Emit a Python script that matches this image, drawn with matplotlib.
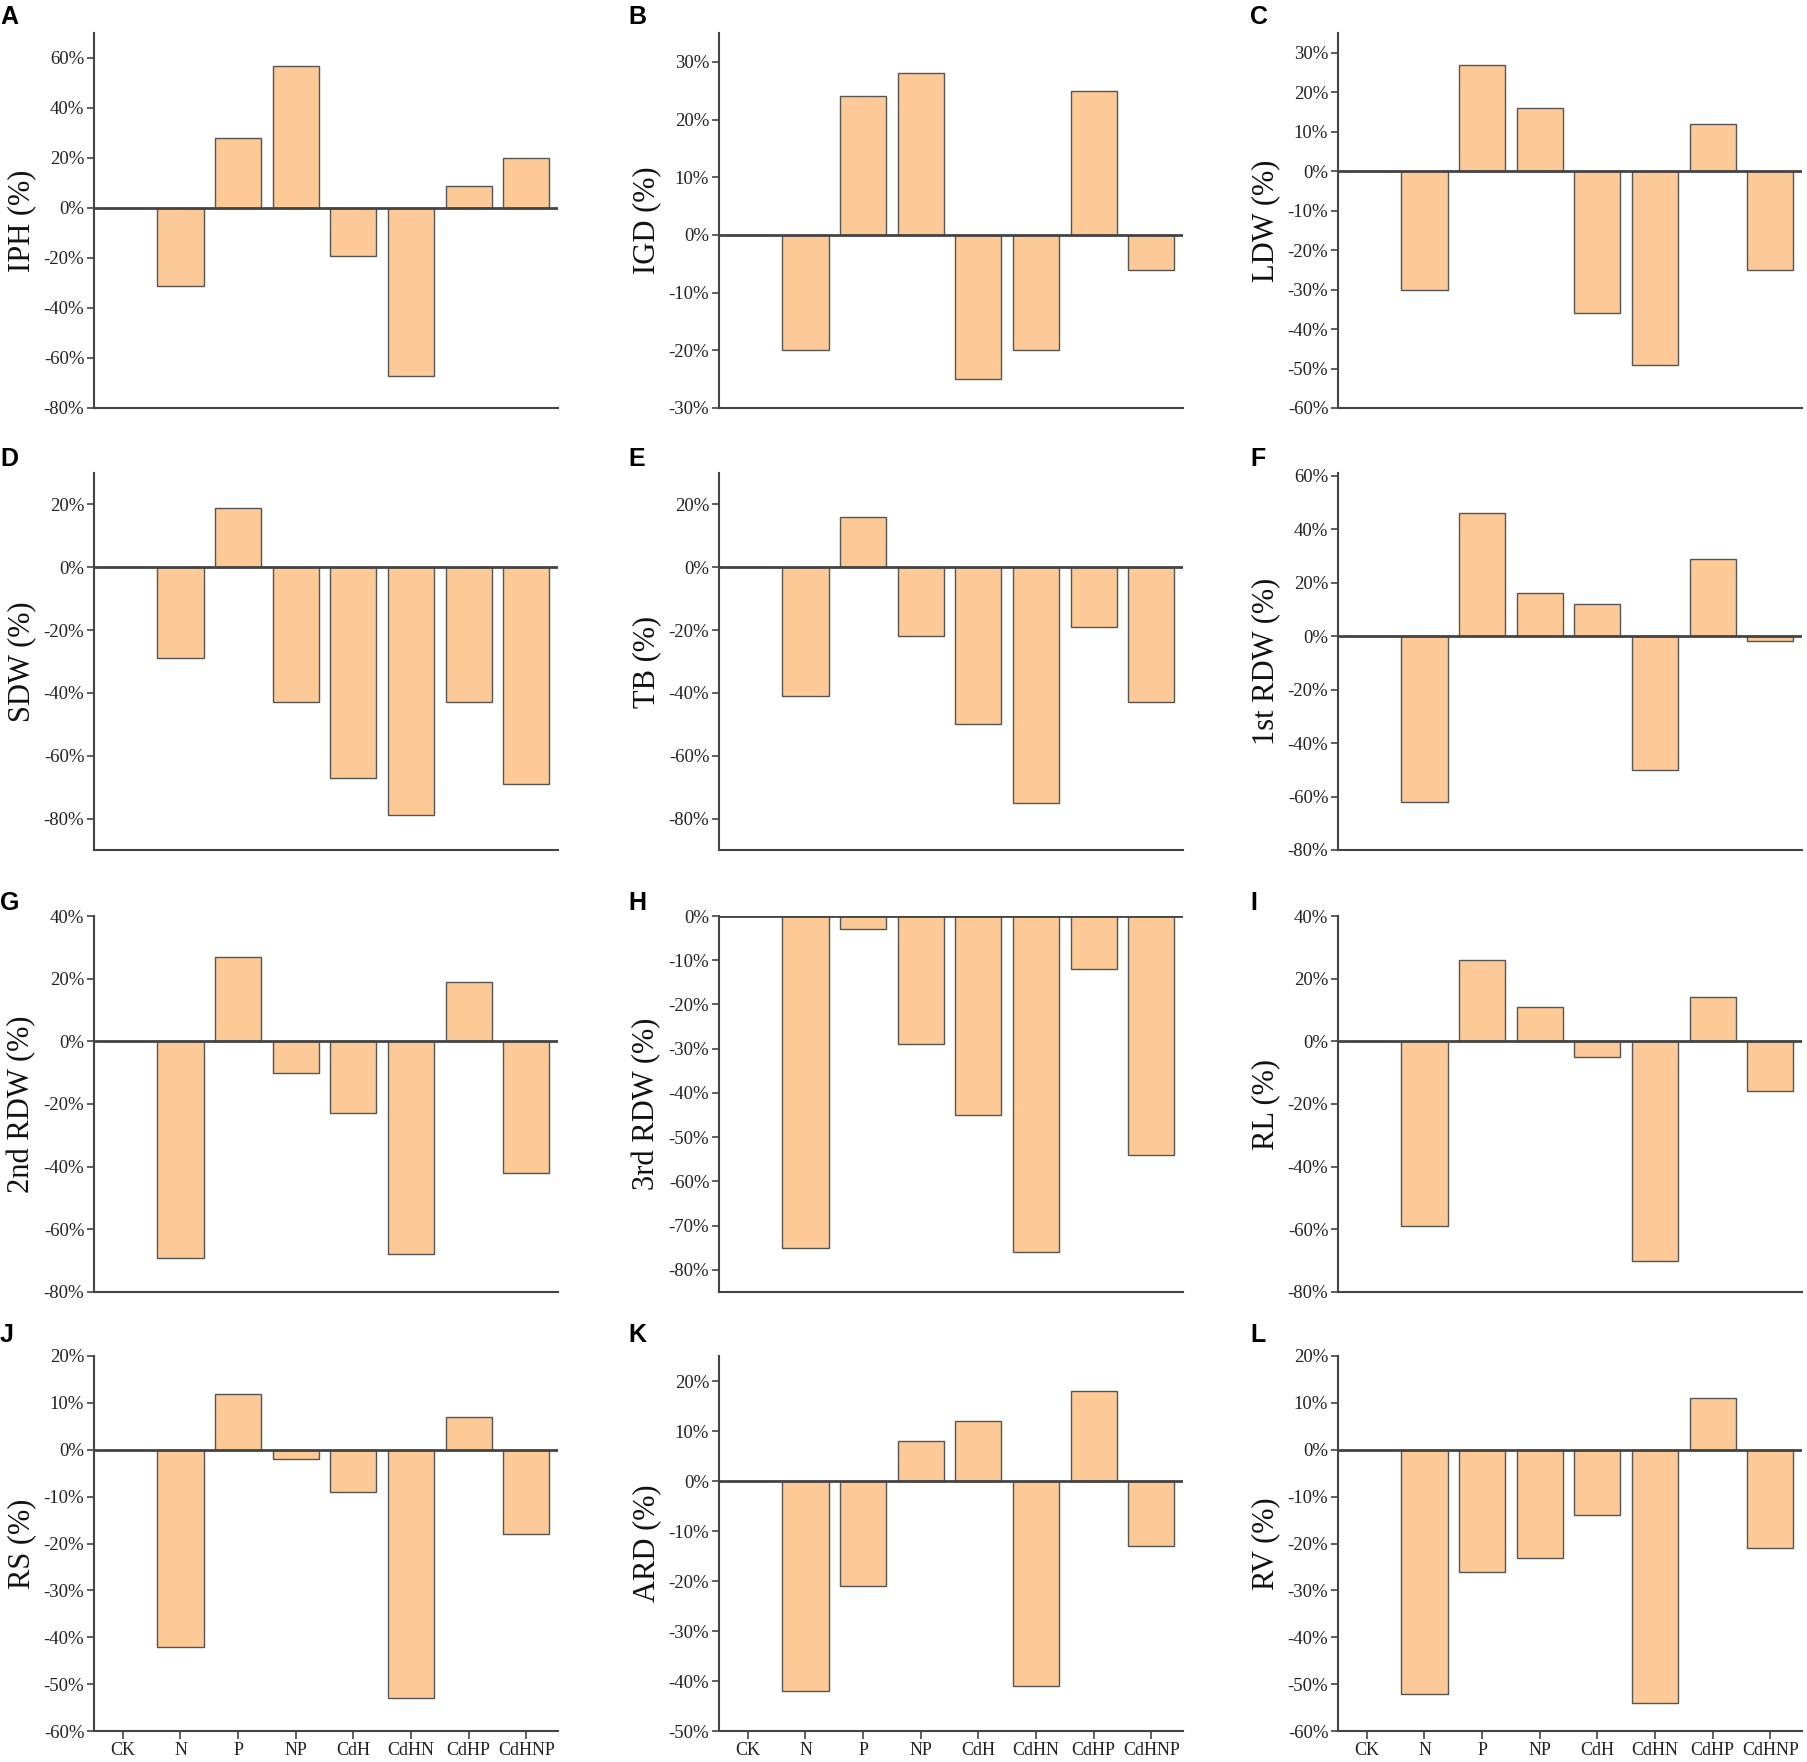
import matplotlib
matplotlib.use("Agg")
import matplotlib.pyplot as plt
from matplotlib.ticker import FuncFormatter

# treatments (CK is the control, so its change is 0)
groups = ["CK", "N", "P", "NP", "CdH", "CdHN", "CdHP", "CdHNP"]

# relative change vs CK, %
iph = [0, -31, 28, 57, -19, -67, 9, 20]
igd = [0, -20, 24, 28, -25, -20, 25, -6]
ldw = [0, -30, 27, 16, -36, -49, 12, -25]
sdw = [0, -29, 19, -43, -67, -79, -43, -69]
tb = [0, -41, 16, -22, -50, -75, -19, -43]
rdw1 = [0, -62, 46, 16, 12, -50, 29, -2]
rdw2 = [0, -69, 27, -10, -23, -68, 19, -42]
rdw3 = [0, -75, -3, -29, -45, -76, -12, -54]
rl = [0, -59, 26, 11, -5, -70, 14, -16]
rs = [0, -42, 12, -2, -9, -53, 7, -18]
ard = [0, -42, -21, 8, 12, -41, 18, -13]
rv = [0, -52, -26, -23, -14, -54, 11, -21]

letters = list("ABCDEFGHIJKL")
ylabels = ["IPH (%)", "IGD (%)", "LDW (%)", "SDW (%)", "TB (%)", "1st RDW (%)",
           "2nd RDW (%)", "3rd RDW (%)", "RL (%)", "RS (%)", "ARD (%)", "RV (%)"]
series = [iph, igd, ldw, sdw, tb, rdw1, rdw2, rdw3, rl, rs, ard, rv]
# (bottom, top, tick step)
limits = [(-80, 70, 20), (-30, 35, 10), (-60, 35, 10),
          (-90, 30, 20), (-90, 30, 20), (-80, 61, 20),
          (-80, 40, 20), (-85, 0, 10), (-80, 40, 20),
          (-60, 20, 10), (-50, 25, 10), (-60, 20, 10)]

W, H = 1807, 1762
fig = plt.figure(figsize=(W / 100, H / 100), dpi=100)

col_left = [94, 719, 1338]
col_w = 464
rows = [(33, 408), (473, 850), (916, 1292), (1356, 1731)]
letter_base = [24, 466, 910, 1342]
letter_x = [0, 628, 1250]

bar_col = "#FDC996"
edge = "#555555"
serif = "Liberation Serif"
pct = FuncFormatter(lambda v, p: f"{v:.0f}%")

for i, vals in enumerate(series):
    r, c = divmod(i, 3)
    top, bot = rows[r]
    ax = fig.add_axes([col_left[c] / W, 1 - bot / H, col_w / W, (bot - top) / H])
    x = list(range(len(groups)))
    ax.bar(x, vals, width=0.8, color=bar_col, edgecolor=edge, linewidth=1.0, zorder=2)
    ax.axhline(0, color="#444444", lw=2, zorder=3)
    lo, hi, step = limits[i]
    ax.set_ylim(lo, hi)
    ax.set_xlim(-0.5, 7.55)
    start = -80 if lo < -80 else lo
    ticks = list(range(start, int(hi) + 1, step))
    ax.set_yticks(ticks)
    ax.yaxis.set_major_formatter(pct)
    for s in ["top", "right"]:
        ax.spines[s].set_visible(False)
    for s in ["left", "bottom"]:
        ax.spines[s].set_color("#444444")
        ax.spines[s].set_linewidth(1.5)
    ax.tick_params(axis="y", length=5, width=1.2, color="#444444", labelsize=13.5, pad=2)
    if r == 3:
        ax.set_xticks(x)
        ax.set_xticklabels(groups)
        ax.tick_params(axis="x", length=6, width=1.2, color="#444444", labelsize=13, pad=2)
    else:
        ax.set_xticks([])
    for lab in ax.get_xticklabels() + ax.get_yticklabels():
        lab.set_fontfamily(serif)
        lab.set_color("#222222")
    ax.set_ylabel(ylabels[i], fontsize=22, fontfamily=serif, color="#111111")
    ax.yaxis.set_label_coords(-0.125, 0.5)
    fig.text(letter_x[c] / W, 1 - letter_base[r] / H, letters[i], fontsize=18,
             fontweight="bold", fontfamily="Liberation Sans", ha="left", va="baseline")

fig.savefig("out.png", dpi=100, facecolor="white")
